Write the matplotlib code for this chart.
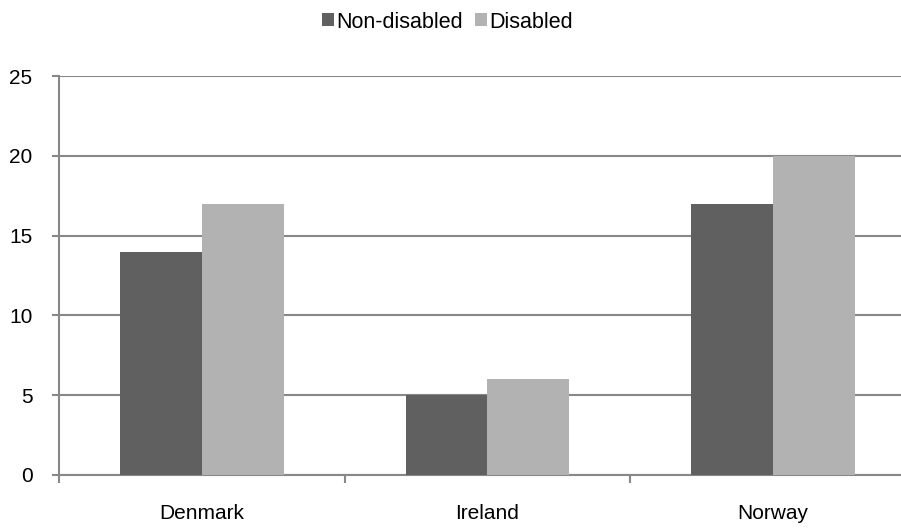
import matplotlib
matplotlib.use("Agg")
import matplotlib.pyplot as plt
import numpy as np

# data
countries = ["Denmark", "Ireland", "Norway"]
non_disabled = [14, 5, 17]
disabled = [17, 6, 20]
series_names = ["Non-disabled", "Disabled"]
yticks = [0, 5, 10, 15, 20, 25]

plt.rcParams["font.family"] = ["Liberation Sans", "DejaVu Sans"]
plt.rcParams["font.size"] = 15

dark = "#606060"
light = "#b2b2b2"
axis_gray = "#888888"

fig = plt.figure(figsize=(9.01, 5.28), dpi=100)
W, H = 901, 528
ax = fig.add_axes([59 / W, 1 - 475 / H, (916 - 59) / W, (475 - 76) / H])

x = np.arange(len(countries))
bw = 0.287
b1 = ax.bar(x - bw / 2, non_disabled, bw, color=dark, label=series_names[0], zorder=3)
b2 = ax.bar(x + bw / 2, disabled, bw, color=light, label=series_names[1], zorder=3)

ax.set_xlim(-0.5, 2.5)
ax.set_ylim(0, 25)
ax.set_yticks(yticks)
ax.yaxis.grid(True, color=axis_gray, linewidth=1.5, zorder=0)
ax.set_axisbelow(True)

ax.set_xticks(x)
ax.set_xticklabels(countries)
ax.set_xticks(np.arange(-0.5, 3.0, 1.0), minor=True)
ax.tick_params(axis="x", which="major", length=0, pad=21)
ax.tick_params(axis="x", which="minor", length=6, width=1.5, color=axis_gray, direction="out")
ax.tick_params(axis="y", length=5, width=1.5, color=axis_gray, pad=14)

for s in ["top", "right"]:
    ax.spines[s].set_visible(False)
for s in ["left", "bottom"]:
    ax.spines[s].set_color(axis_gray)
    ax.spines[s].set_linewidth(1.5)

fig.legend(
    handles=[b1, b2],
    labels=series_names,
    loc="center",
    bbox_to_anchor=(0.5 - 3 / W, 1 - 22 / H),
    ncol=2,
    frameon=False,
    handlelength=0.55,
    handleheight=0.55,
    handletextpad=0.1,
    columnspacing=0.55,
    fontsize=15.5,
)

plt.savefig("out.png", dpi=100)
